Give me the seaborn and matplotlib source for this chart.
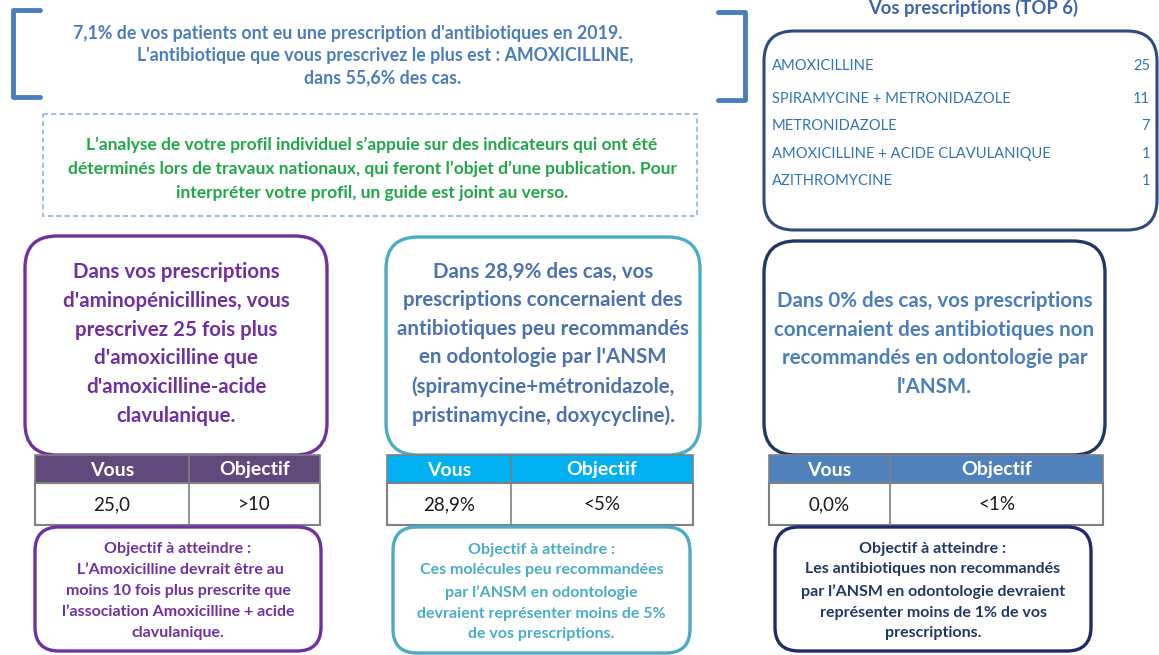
import matplotlib
matplotlib.use("Agg")
import matplotlib.pyplot as plt
import seaborn as sns
from matplotlib.patches import FancyBboxPatch, Rectangle

# ---- data -------------------------------------------------------------
intro_lines = [
    "7,1% de vos patients ont eu une prescription d'antibiotiques en 2019.",
    "L'antibiotique que vous prescrivez le plus est : AMOXICILLINE,",
    "dans 55,6% des cas.",
]
note_lines = [
    "L’analyse de votre profil individuel s’appuie sur des indicateurs qui ont été",
    "déterminés lors de travaux nationaux, qui feront l’objet d’une publication. Pour",
    "interpréter votre profil, un guide est joint au verso.",
]
top_title = "Vos prescriptions (TOP 6)"
top_drugs = ["AMOXICILLINE", "SPIRAMYCINE + METRONIDAZOLE", "METRONIDAZOLE",
             "AMOXICILLINE + ACIDE CLAVULANIQUE", "AZITHROMYCINE"]
top_counts = [25, 11, 7, 1, 1]

indicator_texts = [
    "Dans vos prescriptions\nd'aminopénicillines, vous\nprescrivez 25 fois plus\n"
    "d'amoxicilline que\nd'amoxicilline-acide\nclavulanique.",
    "Dans 28,9% des cas, vos\nprescriptions concernaient des\nantibiotiques peu recommandés\n"
    "en odontologie par l'ANSM\n(spiramycine+métronidazole,\npristinamycine, doxycycline).",
    "Dans 0% des cas, vos prescriptions\nconcernaient des antibiotiques non\n"
    "recommandés en odontologie par\nl'ANSM.",
]
table_header = ["Vous", "Objectif"]
vous_values = ["25,0", "28,9%", "0,0%"]
objectif_values = [">10", "<5%", "<1%"]
goal_texts = [
    "Objectif à atteindre :\n L’Amoxicilline devrait être au\nmoins 10 fois plus prescrite que\n"
    "l’association Amoxicilline + acide\nclavulanique.",
    "Objectif à atteindre :\nCes molécules peu recommandées\npar l’ANSM en odontologie\n"
    "devraient représenter moins de 5%\nde vos prescriptions.",
    "Objectif à atteindre :\nLes antibiotiques non recommandés\npar l’ANSM en odontologie devraient\n"
    "représenter moins de 1% de vos\nprescriptions.",
]

# ---- style ------------------------------------------------------------
sns.set_theme(style="white")
plt.rcParams["font.family"] = ["Lato", "DejaVu Sans"]

W, H = 1159, 655
fig = plt.figure(figsize=(W / 100, H / 100), dpi=100)
ax = fig.add_axes([0, 0, 1, 1])
ax.set_xlim(0, W)
ax.set_ylim(H, 0)
ax.axis("off")


def rbox(x0, y0, x1, y1, color, r=28, lw=2.2, ls="-"):
    ax.add_patch(FancyBboxPatch((x0, y0), x1 - x0, y1 - y0,
                                boxstyle=f"round,pad=0,rounding_size={r}",
                                fc="white", ec=color, lw=lw, ls=ls))


# ---- intro with brackets ---------------------------------------------
blue = "#4A7EBB"
ax.plot([40, 13, 13, 40], [10, 10, 97, 97], color=blue, lw=3.5, solid_capstyle="round")
ax.plot([718, 745, 745, 718], [12, 12, 100, 100], color=blue, lw=3.5, solid_capstyle="round")
for txt, (cx, cy) in zip(intro_lines, [(348, 33), (385, 55), (383, 78)]):
    ax.text(cx, cy, txt, ha="center", va="center", color=blue,
            fontsize=12.8, fontweight="bold")

# ---- green note -------------------------------------------------------
ax.add_patch(Rectangle((43, 114), 654, 102, fc="white", ec="#8DB3E2",
                       lw=1.2, ls=(0, (3, 2))))
ax.text(372, 169, "\n".join(note_lines), ha="center", va="center",
        color="#22A64A", fontsize=12.5, fontweight="bold", linespacing=1.6)

# ---- top 6 box --------------------------------------------------------
ax.text(973, 8, top_title, ha="center", va="center", color="#3B64A8",
        fontsize=13.2, fontweight="bold")
rbox(764, 31, 1157, 230, "#2F4B7C", r=30, lw=2.2)
for name, cnt, y in zip(top_drugs, top_counts, [66, 99, 126, 154, 181]):
    ax.text(772, y, name, ha="left", va="center", color="#2E75B6", fontsize=10.6)
    ax.text(1150, y, str(cnt), ha="right", va="center", color="#2E75B6", fontsize=10.6)

# ---- three indicator columns -----------------------------------------
cols = [
    dict(box=(25, 236, 327, 455), edge="#7030A0", text="#7030A0", tcy=344,
         tab=(35, 320, 189), head="#604A7B",
         goal=(35, 527, 321, 651), gedge="#7030A0", gtext="#7030A0"),
    dict(box=(386, 237, 700, 455), edge="#4BACC6", text="#4A72B0", tcy=344,
         tab=(387, 693, 511), head="#00B0F0",
         goal=(393, 527, 690, 653), gedge="#4BACC6", gtext="#4BACC6"),
    dict(box=(764, 241, 1105, 455), edge="#1F3864", text="#4A7EBB", tcy=344,
         tab=(769, 1103, 890), head="#4F81BD",
         goal=(775, 527, 1091, 651), gedge="#1F2A6B", gtext="#1F3864"),
]

for c, body, vous, obj, goal in zip(cols, indicator_texts, vous_values,
                                     objectif_values, goal_texts):
    x0, y0, x1, y1 = c["box"]
    rbox(x0, y0, x1, y1, c["edge"], r=32, lw=2.4)
    ax.text((x0 + x1) / 2, c["tcy"], body, ha="center", va="center",
            color=c["text"], fontsize=14.8, fontweight="bold", linespacing=1.54)

    tx0, tx1, split = c["tab"]
    ax.add_patch(Rectangle((tx0, 455), tx1 - tx0, 28, fc=c["head"], ec="#808080", lw=1.2))
    ax.add_patch(Rectangle((tx0, 483), tx1 - tx0, 42, fc="white", ec="#808080", lw=1.5))
    ax.plot([split, split], [455, 525], color="#808080", lw=1.2)
    ax.text((tx0 + split) / 2, 470, table_header[0], ha="center", va="center",
            color="white", fontsize=14, fontweight="bold")
    ax.text((split + tx1) / 2, 470, table_header[1], ha="center", va="center",
            color="white", fontsize=14, fontweight="bold")
    ax.text((tx0 + split) / 2, 505, vous, ha="center", va="center",
            color="#1a1a1a", fontsize=13.5)
    ax.text((split + tx1) / 2, 505, obj, ha="center", va="center",
            color="#1a1a1a", fontsize=13.5)

    gx0, gy0, gx1, gy1 = c["goal"]
    rbox(gx0, gy0, gx1, gy1, c["gedge"], r=24, lw=2.4)
    ax.text((gx0 + gx1) / 2, (gy0 + gy1) / 2 + 2, goal, ha="center", va="center",
            color=c["gtext"], fontsize=11.5, fontweight="bold", linespacing=1.62)

fig.savefig("out.png", dpi=100)
